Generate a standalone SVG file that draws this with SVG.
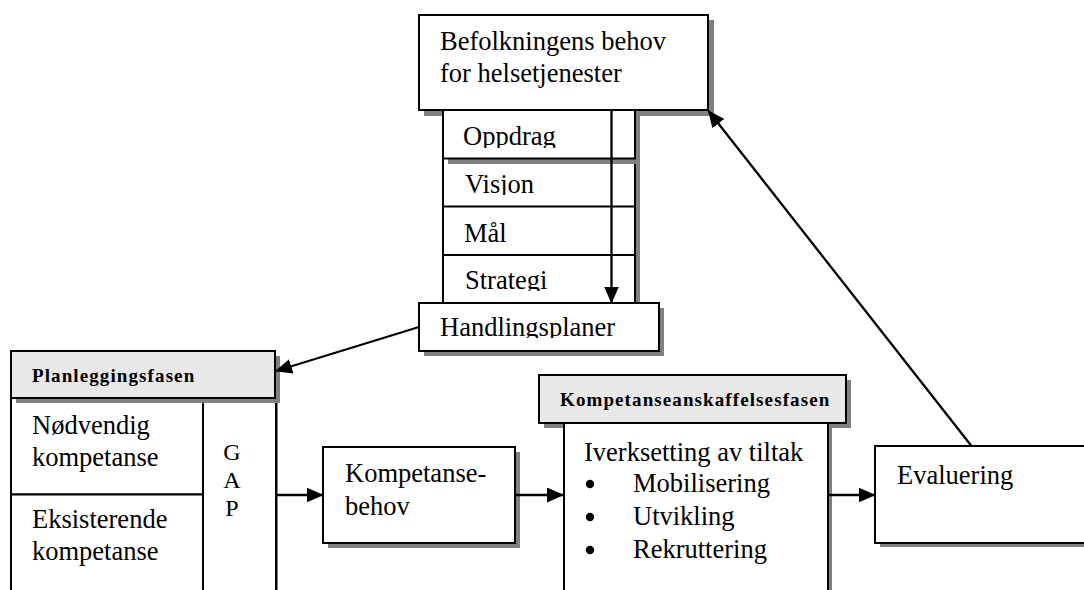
<svg xmlns="http://www.w3.org/2000/svg" width="1084" height="590" viewBox="0 0 1084 590">
  <style>
    .box { fill: #ffffff; stroke: #000000; stroke-width: 2; }
    .head { fill: #e8e8e8; stroke: #000000; stroke-width: 2; }
    .shadow { fill: #808080; stroke: none; }
    .line { fill: none; stroke: #000000; stroke-width: 2; }
    .t { font-family: "Liberation Serif", "Times New Roman", serif; font-size: 26.5px; fill: #000000; }
    .gap { font-family: "Liberation Serif", "Times New Roman", serif; font-size: 24px; fill: #000000; text-anchor: middle; }
    .h { font-family: "Liberation Serif", "Times New Roman", serif; font-size: 19px; font-weight: bold; letter-spacing: 1.1px; fill: #000000; }
    .conn { fill: none; stroke: #000000; stroke-width: 2.3; }
  </style>
  <defs>
    <marker id="arrow" viewBox="0 0 17 15" refX="16" refY="7.5" markerWidth="17" markerHeight="15" markerUnits="userSpaceOnUse" orient="auto">
      <path d="M0,0 L17,7.5 L0,15 Z" fill="#000000"/>
    </marker>
    <clipPath id="clipOppdrag"><rect x="443" y="110" width="192" height="38"/></clipPath>
    <clipPath id="clipVisjon"><rect x="443" y="158" width="192" height="37"/></clipPath>
    <clipPath id="clipMal"><rect x="443" y="206" width="192" height="38"/></clipPath>
    <clipPath id="clipStrategi"><rect x="443" y="255" width="192" height="36"/></clipPath>
    <clipPath id="clipHandling"><rect x="419" y="303" width="240" height="35"/></clipPath>
  </defs>

  <!-- Top: population needs -->
  <g id="befolkning">
    <rect class="shadow" x="424" y="20" width="290" height="96"/>
    <rect class="box" x="419" y="15" width="289" height="95"/>
    <text class="t" x="440" y="50">Befolkningens behov</text>
    <text class="t" x="440" y="82">for helsetjenester</text>
  </g>

  <!-- Stack: mission, vision, goals, strategy -->
  <g id="stack">
    <rect class="shadow" x="448" y="115" width="192" height="193"/>
    <rect class="box" x="443" y="110" width="192" height="193"/>
    <line class="line" x1="443" y1="206.5" x2="635" y2="206.5"/>
    <line class="line" x1="443" y1="255" x2="635" y2="255"/>
  </g>
  <g id="oppdrag">
    <rect class="shadow" x="448" y="115" width="192" height="49"/>
    <rect class="box" x="443" y="110" width="192" height="48.5"/>
    <text class="t" x="463" y="145" clip-path="url(#clipOppdrag)">Oppdrag</text>
  </g>
  <g id="visjon">
    <text class="t" x="465" y="193" clip-path="url(#clipVisjon)">Visjon</text>
  </g>
  <g id="maal">
    <text class="t" x="464" y="242" clip-path="url(#clipMal)">Mål</text>
  </g>
  <g id="strategi">
    <text class="t" x="465" y="289" clip-path="url(#clipStrategi)">Strategi</text>
  </g>

  <!-- Action plans -->
  <g id="handlingsplaner">
    <rect class="shadow" x="424" y="308" width="240" height="48"/>
    <rect class="box" x="419" y="303" width="240" height="48"/>
    <text class="t" x="440" y="336" clip-path="url(#clipHandling)">Handlingsplaner</text>
  </g>

  <!-- Planning phase -->
  <g id="planleggingsfasen">
    <rect class="shadow" x="16" y="403" width="262" height="200"/>
    <rect class="box" x="11" y="398" width="192" height="96.5"/>
    <rect class="box" x="11" y="494.5" width="192" height="110"/>
    <rect class="box" x="203" y="398" width="73" height="206"/>
    <text class="t" x="32" y="434">Nødvendig</text>
    <text class="t" x="32" y="466">kompetanse</text>
    <text class="t" x="32" y="528">Eksisterende</text>
    <text class="t" x="32" y="560">kompetanse</text>
    <text class="gap" x="232" y="460">G</text>
    <text class="gap" x="232" y="488">A</text>
    <text class="gap" x="232" y="516">P</text>
    <rect class="shadow" x="16" y="356" width="264" height="47"/>
    <rect class="head" x="11" y="351" width="264" height="47"/>
    <text class="h" x="32" y="382">Planleggingsfasen</text>
  </g>

  <!-- Competence need -->
  <g id="kompetansebehov">
    <rect class="shadow" x="328" y="452" width="192" height="96"/>
    <rect class="box" x="323" y="447" width="192" height="96"/>
    <text class="t" x="345" y="482">Kompetanse-</text>
    <text class="t" x="345" y="515">behov</text>
  </g>

  <!-- Acquisition phase -->
  <g id="kompetanseanskaffelsesfasen">
    <rect class="shadow" x="544" y="380" width="307" height="48"/>
    <rect class="head" x="539" y="375" width="307" height="48"/>
    <text class="h" x="560" y="406">Kompetanseanskaffelsesfasen</text>
    <rect class="shadow" x="568" y="428" width="264" height="180"/>
    <rect class="box" x="564" y="423" width="264" height="180"/>
    <text class="t" x="584" y="461">Iverksetting av tiltak</text>
    <circle cx="590" cy="484" r="4.2" fill="#000000"/>
    <circle cx="590" cy="517" r="4.2" fill="#000000"/>
    <circle cx="590" cy="550" r="4.2" fill="#000000"/>
    <text class="t" x="633" y="492">Mobilisering</text>
    <text class="t" x="633" y="525">Utvikling</text>
    <text class="t" x="633" y="558">Rekruttering</text>
  </g>

  <!-- Evaluation -->
  <g id="evaluering">
    <rect class="shadow" x="880" y="451" width="220" height="96"/>
    <rect class="box" x="875" y="446" width="220" height="97"/>
    <text class="t" x="897" y="484">Evaluering</text>
  </g>

  <!-- Connectors -->
  <g id="connectors">
    <line class="conn" x1="611.5" y1="110" x2="611.5" y2="302.5" marker-end="url(#arrow)"/>
    <line class="conn" x1="419" y1="327" x2="276" y2="371" marker-end="url(#arrow)"/>
    <line class="conn" x1="276" y1="495" x2="322.5" y2="495" marker-end="url(#arrow)"/>
    <line class="conn" x1="515" y1="495" x2="563" y2="495" marker-end="url(#arrow)"/>
    <line class="conn" x1="828" y1="495" x2="874.5" y2="495" marker-end="url(#arrow)"/>
    <line class="conn" x1="971.5" y1="446" x2="708.5" y2="111" marker-end="url(#arrow)"/>
  </g>
</svg>
